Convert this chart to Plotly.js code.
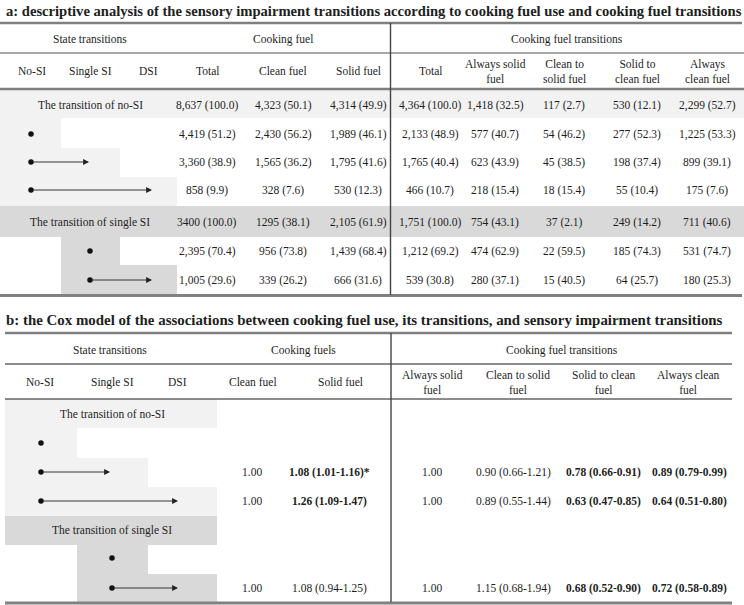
<!DOCTYPE html>
<html><head><meta charset="utf-8">
<script src="https://cdn.plot.ly/plotly-3.0.1.min.js"></script>
<style>html,body{margin:0;padding:0;background:#fff}#c{width:744px;height:605px}</style>
</head><body><div id="c"></div>
<script>
// ---------------- DATA ----------------
var titleA = "a: descriptive analysis of the sensory impairment transitions according to cooking fuel use and cooking fuel transitions";
var titleB = "b: the Cox model of the associations between cooking fuel use, its transitions, and sensory impairment transitions";
var stateNames = ["No-SI", "Single SI", "DSI"];
var groupLabels = ["The transition of no-SI", "The transition of single SI"];

// rows: group label rows have from = null
var rowGroup = [0, 0, 0, 0, 1, 1, 1];
var rowFrom  = [null, 0, 0, 0, null, 1, 1];
var rowTo    = [null, 0, 1, 2, null, 1, 2];

// Part a
var aGroupHeads = ["State transitions", "Cooking fuel", "Cooking fuel transitions"];
var aColHeads = ["Total", "Clean fuel", "Solid fuel", "Total", "Always solid<br>fuel", "Clean to<br>solid fuel", "Solid to<br>clean fuel", "Always<br>clean fuel"];
var aCookTotal   = ["8,637 (100.0)","4,419 (51.2)","3,360 (38.9)","858 (9.9)","3400 (100.0)","2,395 (70.4)","1,005 (29.6)"];
var aCookClean   = ["4,323 (50.1)","2,430 (56.2)","1,565 (36.2)","328 (7.6)","1295 (38.1)","956 (73.8)","339 (26.2)"];
var aCookSolid   = ["4,314 (49.9)","1,989 (46.1)","1,795 (41.6)","530 (12.3)","2,105 (61.9)","1,439 (68.4)","666 (31.6)"];
var aTransTotal  = ["4,364 (100.0)","2,133 (48.9)","1,765 (40.4)","466 (10.7)","1,751 (100.0)","1,212 (69.2)","539 (30.8)"];
var aAlwaysSolid = ["1,418 (32.5)","577 (40.7)","623 (43.9)","218 (15.4)","754 (43.1)","474 (62.9)","280 (37.1)"];
var aCleanToSolid= ["117 (2.7)","54 (46.2)","45 (38.5)","18 (15.4)","37 (2.1)","22 (59.5)","15 (40.5)"];
var aSolidToClean= ["530 (12.1)","277 (52.3)","198 (37.4)","55 (10.4)","249 (14.2)","185 (74.3)","64 (25.7)"];
var aAlwaysClean = ["2,299 (52.7)","1,225 (53.3)","899 (39.1)","175 (7.6)","711 (40.6)","531 (74.7)","180 (25.3)"];

// Part b
var bGroupHeads = ["State transitions", "Cooking fuels", "Cooking fuel transitions"];
var bColHeads = ["Clean fuel", "Solid fuel", "Always solid<br>fuel", "Clean to solid<br>fuel", "Solid to clean<br>fuel", "Always clean<br>fuel"];
var bClean        = ["", "", "1.00", "1.00", "", "", "1.00"];
var bSolid        = ["", "", "1.08 (1.01-1.16)*", "1.26 (1.09-1.47)", "", "", "1.08 (0.94-1.25)"];
var bAlwaysSolid  = ["", "", "1.00", "1.00", "", "", "1.00"];
var bCleanToSolid = ["", "", "0.90 (0.66-1.21)", "0.89 (0.55-1.44)", "", "", "1.15 (0.68-1.94)"];
var bSolidToClean = ["", "", "0.78 (0.66-0.91)", "0.63 (0.47-0.85)", "", "", "0.68 (0.52-0.90)"];
var bAlwaysClean  = ["", "", "0.89 (0.79-0.99)", "0.64 (0.51-0.80)", "", "", "0.72 (0.58-0.89)"];
var bSolidBold        = [false, false, true, true, false, false, false];
var bCleanToSolidBold = [false, false, false, false, false, false, false];
var bSolidToCleanBold = [false, false, true, true, false, false, true];
var bAlwaysCleanBold  = [false, false, true, true, false, false, true];

// ---------------- LAYOUT GEOMETRY ----------------
var FONT = "Liberation Serif, Times New Roman, serif";
var TXT = "#1e1e1e";
var LIGHT = "#f2f2f2", DARK = "#d9d9d9";
var shapes = [], ann = [], dotX = [], dotY = [];

function hline(x0, x1, y, color, w) {
  shapes.push({type: "line", xref: "x", yref: "y", x0: x0, x1: x1, y0: y, y1: y, line: {color: color, width: w}});
}
function vline(x, y0, y1, color, w) {
  shapes.push({type: "line", xref: "x", yref: "y", x0: x, x1: x, y0: y0, y1: y1, line: {color: color, width: w}});
}
function rect(x0, x1, y0, y1, fill) {
  shapes.push({type: "rect", xref: "x", yref: "y", x0: x0, x1: x1, y0: y0, y1: y1, fillcolor: fill, line: {width: 0}, layer: "below"});
}
function txt(x, y, s, size, bold, anchor) {
  ann.push({x: x, y: y, xref: "x", yref: "y", text: bold ? "<b>" + s + "</b>" : s, showarrow: false,
    xanchor: anchor || "center", yanchor: "middle", font: {family: FONT, size: size, color: TXT}});
}
function arrow(x0, x1, y) {
  ann.push({x: x1, y: y, ax: x0, ay: y, xref: "x", yref: "y", axref: "x", ayref: "y", text: "", showarrow: true,
    arrowhead: 2, arrowsize: 1.3, arrowwidth: 0.9, arrowcolor: "#222", standoff: 0, startstandoff: 0});
}

function drawStates(rowsY, rowsTop, rowsBot, edges, pointX, endX, fullRight, groupX, size) {
  for (var i = 0; i < rowGroup.length; i++) {
    var shade = rowGroup[i] === 0 ? LIGHT : DARK;
    if (rowFrom[i] === null) {
      rect(edges[0], fullRight, rowsTop[i], rowsBot[i], shade);
      txt(groupX, rowsY[i], groupLabels[rowGroup[i]], size, false);
    } else {
      rect(edges[rowFrom[i]], edges[rowTo[i] + 1], rowsTop[i], rowsBot[i], shade);
      if (rowTo[i] !== rowFrom[i]) arrow(pointX[rowFrom[i]], endX[rowTo[i]], rowsY[i]);
      dotX.push(pointX[rowFrom[i]]); dotY.push(rowsY[i]);
    }
  }
}

// ---- Part a ----
var FS = 11.5;
txt(4, 11, titleA, 14.6, true, "left");
var aRowY   = [105, 134, 162, 190, 222, 251, 280];
var aRowTop = [89, 118, 148, 177, 206, 237, 265];
var aRowBot = [118, 148, 177, 206, 237, 265, 294];
var aEdges = [0, 61, 120, 177];
drawStates(aRowY, aRowTop, aRowBot, aEdges, [31, 90], [31, 89, 152], 744, 90, FS);
hline(0, 742, 23, "#808080", 2.5);
hline(0, 744, 53, "#8a8a8a", 1.3);
hline(0, 744, 89, "#808080", 2.5);
hline(0, 742, 295.5, "#808080", 3);
vline(390.5, 23, 295, "#444", 1.4);
txt(90, 39, aGroupHeads[0], FS); txt(283, 39, aGroupHeads[1], FS); txt(567, 39, aGroupHeads[2], FS);
var aStateHeadX = [32, 90, 148];
for (var k = 0; k < 3; k++) txt(aStateHeadX[k], 71, stateNames[k], FS);
var aColX = [207, 283, 358, 430, 495, 564, 637, 707];
for (k = 0; k < aColHeads.length; k++) txt(aColX[k], 71, aColHeads[k], FS);
var aCols = [aCookTotal, aCookClean, aCookSolid, aTransTotal, aAlwaysSolid, aCleanToSolid, aSolidToClean, aAlwaysClean];
for (k = 0; k < aCols.length; k++)
  for (var r = 0; r < aCols[k].length; r++) txt(aColX[k], aRowY[r], aCols[k][r], FS);

// ---- Part b ----
txt(4, 320, titleB, 14.9, true, "left");
var bRowY   = [414, 443, 472, 501, 530, 558, 588];
var bRowTop = [399, 428, 458, 487, 516, 545, 574];
var bRowBot = [428, 458, 487, 516, 545, 574, 602];
var bEdges = [5, 77, 148, 217];
drawStates(bRowY, bRowTop, bRowBot, bEdges, [41, 112], [41, 110, 178], 217, 112, FS);
hline(5, 732, 333, "#808080", 2.5);
hline(5, 732, 364, "#1a1a1a", 1.2);
hline(5, 732, 399, "#1a1a1a", 1.2);
hline(5, 732, 603, "#808080", 3);
vline(391, 333, 602, "#444", 1.4);
txt(110, 350, bGroupHeads[0], FS); txt(303, 350, bGroupHeads[1], FS); txt(562, 350, bGroupHeads[2], FS);
var bStateHeadX = [40, 112, 177];
for (k = 0; k < 3; k++) txt(bStateHeadX[k], 382, stateNames[k], FS);
var bHeadX = [253, 340, 432, 518, 603, 688];
for (k = 0; k < bColHeads.length; k++) txt(bHeadX[k], 382, bColHeads[k], FS);
var bValX = [252, 329, 432, 513, 603, 689];
var bCols = [bClean, bSolid, bAlwaysSolid, bCleanToSolid, bSolidToClean, bAlwaysClean];
var bBold = [null, bSolidBold, null, bCleanToSolidBold, bSolidToCleanBold, bAlwaysCleanBold];
for (k = 0; k < bCols.length; k++)
  for (r = 0; r < bCols[k].length; r++)
    if (bCols[k][r]) txt(bValX[k], bRowY[r], bCols[k][r], FS, bBold[k] ? bBold[k][r] : false);

var traces = [{type: "scatter", mode: "markers", x: dotX, y: dotY, hoverinfo: "skip",
  marker: {size: 5.5, color: "#111"}, showlegend: false}];

var layout = {
  width: 744, height: 605, margin: {l: 0, r: 0, t: 0, b: 0},
  paper_bgcolor: "#fff", plot_bgcolor: "#fff",
  xaxis: {range: [0, 744], visible: false, fixedrange: true},
  yaxis: {range: [605, 0], visible: false, fixedrange: true},
  shapes: shapes, annotations: ann, showlegend: false
};
Plotly.newPlot("c", traces, layout, {staticPlot: true, displayModeBar: false});
</script></body></html>
